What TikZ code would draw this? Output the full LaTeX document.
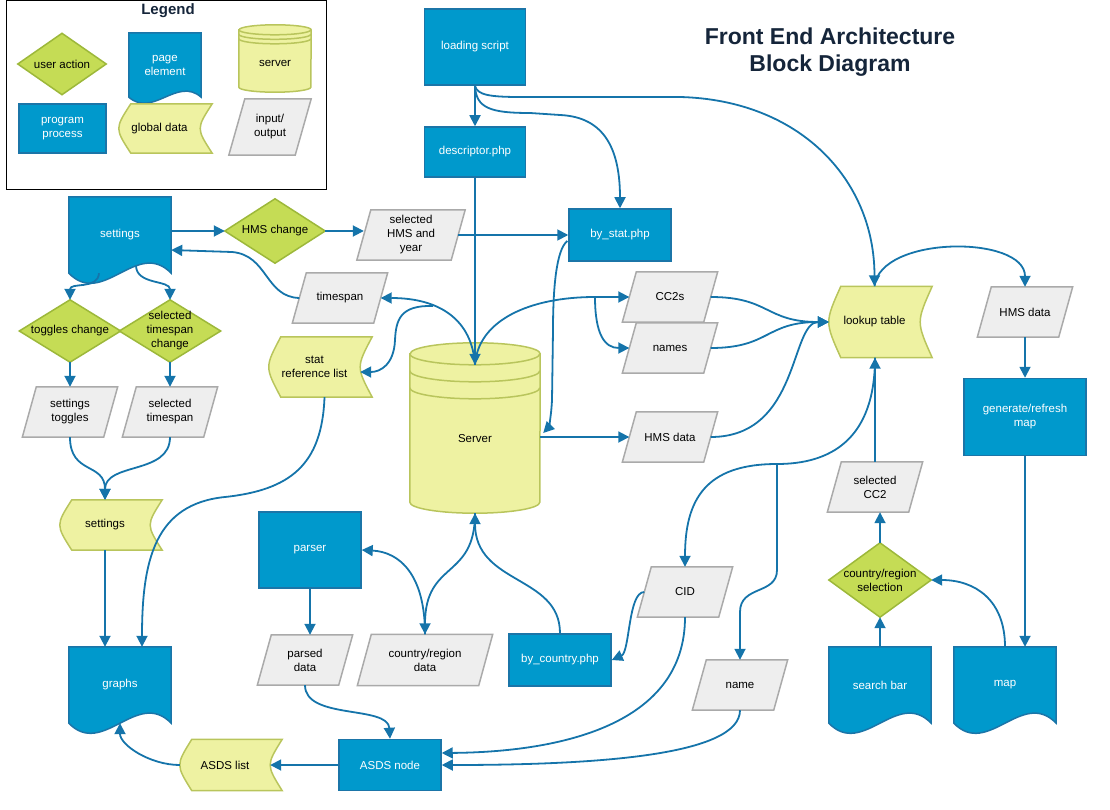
\documentclass[tikz,border=0pt]{standalone}
\usepackage{fontspec}
\setmainfont{Liberation Sans}
\usetikzlibrary{arrows.meta,calc,backgrounds}

\definecolor{procblue}{HTML}{0099CC}
\definecolor{procedge}{HTML}{1B75A8}
\definecolor{actgreen}{HTML}{C5DC55}
\definecolor{actedge}{HTML}{9DB83A}
\definecolor{datayellow}{HTML}{EEF2A2}
\definecolor{dataedge}{HTML}{B9C55C}
\definecolor{iogray}{HTML}{EEEEEE}
\definecolor{ioedge}{HTML}{AAAAAA}
\definecolor{flowblue}{HTML}{1574AA}
\definecolor{titlenavy}{HTML}{15253A}

\begin{document}
\begin{tikzpicture}[
  x=1pt, y=-1pt,
  box/.style={font=\fontsize{11.5}{14}\selectfont, align=center, inner sep=1pt},
  dims/.style 2 args={minimum width=#1, minimum height=#2},
  process/.style={box, rectangle, fill=procblue, draw=procedge, line width=1.5pt, text=white},
  pageel/.style={box, text=white, dims={102}{76}},
  inout/.style={box, dims={81}{50}},
  pagefill/.style={fill=procblue, draw=procedge, line width=1.5pt},
  actfill/.style={fill=actgreen, draw=actedge, line width=1.5pt},
  datafill/.style={fill=datayellow, draw=dataedge, line width=1.5pt},
  iofill/.style={fill=iogray, draw=ioedge, line width=1.5pt},
  flow/.style={draw=flowblue, line width=1.8pt, -{Triangle[length=11pt,width=11pt]}}
]
\useasboundingbox (0,0) rectangle (1110,810);

% legend
\draw[line width=1pt] (6,1) rectangle (326,190);
\node[font=\fontsize{15}{18}\selectfont\bfseries, text=titlenavy] (lgtitle) at (168,11) {Legend};
\node[box, dims={88}{61}] (lgaction) at (62,64) {user action};
\node[pageel, dims={72}{64}] (lgpage) at (165,65) {page\\element};
\node[box, dims={72}{57}] (lgserver) at (275,63.5) {server};
\node[process, dims={87}{49}] (lgprocess) at (62.5,128.5) {program\\process};
\node[box, dims={81}{49}] (lgstored) at (159.5,128.5) {global data};
\node[inout, dims={66}{56}] (lgio) at (270,127) {input/\\output};

\node[font=\fontsize{23}{27}\selectfont\bfseries, text=titlenavy, align=center] (title)
  at (830,52) {Front End Architecture\\Block Diagram};

% program processes
\node[process, dims={101}{76}] (load) at (475,47) {loading script};
\node[process, dims={101}{50}] (desc) at (475,152) {descriptor.php};
\node[process, dims={102}{52}] (bystat) at (620,235) {by\_stat.php};
\node[process, dims={122}{77}] (gen) at (1025,417) {generate/refresh\\map};
\node[process, dims={102}{76}] (parser) at (310,550) {parser};
\node[process, dims={102}{52}] (bycountry) at (560,660) {by\_country.php};
\node[process, dims={102}{51}] (asdsnode) at (390,765) {ASDS node};

% page elements
\node[pageel] (settings) at (120,235) {settings};
\node[pageel] (graphs) at (120,685) {graphs};
\node[pageel] (searchbar) at (880,685) {search bar};
\node[pageel] (map) at (1005,685) {map};

% user actions
\node[box, dims={100}{64}] (hmsch) at (275,231) {HMS change};
\node[box, dims={101}{62}] (togch) at (70,331) {toggles change};
\node[box, dims={101}{62}] (tsch) at (170,331) {selected\\timespan\\change};
\node[box, dims={102}{74}] (crsel) at (880,580) {country/region\\selection};

% global data
\node[box, dims={91}{60}] (statref) at (314.5,367) {stat\\reference list};
\node[box, dims={90}{50}] (setg) at (105,525) {settings};
\node[box, dims={90}{51}] (asdslist) at (225,765) {ASDS list};
\node[box, dims={91}{71}] (look) at (874.5,322) {lookup table};

% server
\node[box, dims={130}{148}] (server) at (475,439) {Server};

% input/output
\node[inout, dims={94}{50}] (selhms) at (411,235) {selected\\HMS and\\year};
\node[inout] (ts) at (340,298) {timespan};
\node[inout] (togg) at (70,412) {settings\\toggles};
\node[inout] (selts) at (170,412) {selected\\timespan};
\node[inout] (cc2s) at (670,297) {CC2s};
\node[inout] (names) at (670,348) {names};
\node[inout] (hmsmid) at (670,437) {HMS data};
\node[inout] (hmsr) at (1025,312) {HMS data};
\node[inout] (selcc2) at (875,487) {selected\\CC2};
\node[inout] (cid) at (685,592) {CID};
\node[inout] (name) at (740,685) {name};
\node[inout] (parsed) at (305,660) {parsed\\data};
\node[inout, dims={121}{51}] (crdata) at (425,660) {country/region\\data};

\begin{scope}[on background layer]
\foreach \n/\k in {settings/35, graphs/35, searchbar/35, map/35, lgpage/21}
  \draw[pagefill] (\n.north west) -- (\n.north east) -- (\n.south east)
    .. controls ($(\n.south east)!0.3333!(\n.south west)+(0,-\k)$)
    and ($(\n.south east)!0.6667!(\n.south west)+(0,\k)$) .. (\n.south west) -- cycle;
\foreach \n in {hmsch, togch, tsch, crsel, lgaction}
  \draw[actfill] (\n.north) -- (\n.east) -- (\n.south) -- (\n.west) -- cycle;
\foreach \n in {statref, setg, asdslist, look, lgstored}
  \draw[datafill] ($(\n.north west)+(12,0)$) -- ($(\n.north east)+(12,0)$)
    .. controls ($(\n.east)+(-4,0)$) .. ($(\n.south east)+(12,0)$)
    -- ($(\n.south west)+(12,0)$)
    .. controls ($(\n.west)+(-4,0)$) .. ($(\n.north west)+(12,0)$) -- cycle;
\foreach \n/\s in {selhms/7, ts/7, togg/7, selts/7, cc2s/7, names/7, hmsmid/7, hmsr/7,
    selcc2/7, cid/7, name/7, parsed/7, crdata/7, lgio/8}
  \draw[iofill] ($(\n.north west)+(\s,0)$) -- ($(\n.north east)+(\s,0)$)
    -- ($(\n.south east)+(-\s,0)$) -- ($(\n.south west)+(-\s,0)$) -- cycle;
\foreach \n/\rx/\ry/\gap in {server/65/11/17, lgserver/36/5/4.5} {
  \draw[datafill] ($(\n.north west)+(0,-\ry)$) -- ($(\n.south west)+(0,-\ry)$)
    arc[start angle=180, end angle=360, x radius=\rx pt, y radius=\ry pt]
    -- ($(\n.north east)+(0,-\ry)$)
    arc[start angle=0, end angle=180, x radius=\rx pt, y radius=\ry pt] -- cycle;
  \foreach \g in {0,1,2}
    \draw[dataedge, line width=1.5pt] ($(\n.north west)+(0,{\g*\gap-\ry})$)
      arc[start angle=180, end angle=360, x radius=\rx pt, y radius=\ry pt];
}
\end{scope}

% loading script
\draw[flow] (load.south) -- (desc.north);
\draw[flow] (load.south) .. controls (476,108) and (490,113) .. (530,113) -- (560,115)
  .. controls (605,117) and (620,150) .. (bystat.north);
\draw[flow] (load.south) .. controls (477,95) and (490,97) .. (520,97) -- (680,97)
  .. controls (800,100) and (874.5,180) .. (look.north);
\draw[flow] (desc.south) -- (server.north);

% settings
\draw[flow] (settings.east |- hmsch.west) -- (hmsch.west);
\draw[flow] (hmsch.east) -- (hmsch.east -| selhms.west);
\draw[flow] (selhms.east) -- (bystat.west);
\draw[flow] (ts.west) .. controls (265,297) and (268,255) .. (232,252) -- ($(settings.east)+(0,15)$);
\draw[flow] ($(settings.south)+(-21,0)$) .. controls (98,290) and (70,282) .. (togch.north);
\draw[flow] ($(settings.south)+(16,-7)$) .. controls (137,285) and (170,280) .. (tsch.north);
\draw[flow] (togch.south) -- (togg.north);
\draw[flow] (tsch.south) -- (selts.north);
\draw[flow] (togg.south) .. controls (70,475) and (105,462) .. (setg.north);
\draw[flow] (selts.south) .. controls (170,475) and (105,462) .. (setg.north);
\draw[flow] (setg.south) -- (setg.south |- graphs.north);
\draw[flow] ($(statref.south)+(10,0)$) .. controls (322,465) and (290,490) .. (225,497)
  .. controls (155,504) and (142,560) .. ($(graphs.north)+(22,0)$);
\draw[flow] (asdslist.west) .. controls (150,765) and (120,745) .. (graphs.south);
\draw[flow] (asdsnode.west) -- (asdslist.east);

% server
\coordinate (tsfork) at (433,306);
\coordinate (ccfork) at (595,297);
\draw[flow] (server.north) .. controls (472,320) and (440,298) .. (ts.east);
\draw[flow] (tsfork) .. controls (400,305) and (396,320) .. (395,340)
  .. controls (394,365) and (380,372) .. ($(statref.east)+(0,5)$);
\draw[flow] (server.north) .. controls (478,320) and (530,297) .. (ccfork) -- (cc2s.west);
\draw[flow] (ccfork) .. controls (595,335) and (605,348) .. (names.west);
\draw[flow] ($(bystat.west)+(-1,6)$) .. controls (556,250) and (553,290) .. (553,330) -- (552,400)
  .. controls (551,420) and (548,428) .. ($(server.east)+(3,-6)$);
\draw[flow] (hmsmid.west -| server.east) -- (hmsmid.west);

% lookup table
\draw[flow] (cc2s.east) .. controls (770,297) and (765,322) .. (look.west);
\draw[flow] (names.east) .. controls (770,348) and (765,322) .. (look.west);
\draw[flow] (hmsmid.east) .. controls (800,437) and (790,322) .. (look.west);
\draw[flow] (look.north) .. controls (880,235) and (1025,235) .. (hmsr.north);
\draw[flow] (hmsr.south) -- (gen.north);
\draw[flow] (gen.south) -- (gen.south |- map.north);
\draw[flow] (map.north) .. controls (1005,600) and (975,580) .. (crsel.east);
\draw[flow] (searchbar.north) -- (crsel.south);
\draw[flow] (crsel.north) -- (crsel.north |- selcc2.south);
\draw[flow] (selcc2.north) -- (selcc2.north |- look.south);

\coordinate (namefork) at (777,464);
\draw[flow] (selcc2.north |- look.south) .. controls (875,440) and (830,464) .. (namefork)
  .. controls (705,464) and (685,500) .. (cid.north);
\draw[flow] (namefork) -- (777,570) .. controls (777,595) and (740,585) .. (740,612) -- (name.north);
\draw[flow] (cid.west) .. controls (628,592) and (630,652) .. (bycountry.east);
\draw[flow] (cid.south) .. controls (685,725) and (560,752) .. ($(asdsnode.east)+(0,-12)$);
\draw[flow] (name.south) .. controls (740,755) and (600,765) .. (asdsnode.east);

% parser
\draw[flow] (bycountry.north) .. controls (560,575) and (475,585) .. (server.south);
\draw[flow] (server.south) .. controls (475,580) and (425,560) .. (crdata.north);
\draw[flow] (crdata.north) .. controls (425,575) and (400,552) .. (parser.east);
\draw[flow] (parser.south) -- (parser.south |- parsed.north);
\draw[flow] (parsed.south) .. controls (305,720) and (388,705) .. (asdsnode.north);
\end{tikzpicture}
\end{document}
